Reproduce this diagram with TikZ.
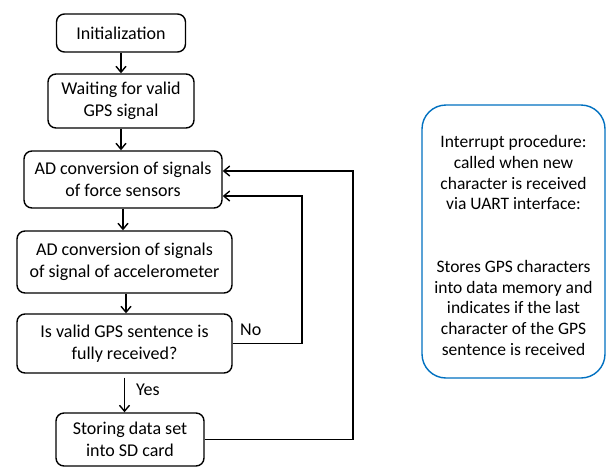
\documentclass[tikz,border=0pt]{standalone}
\usepackage{fontspec}
\setmainfont{Carlito}
\usetikzlibrary{arrows.meta,calc}
\definecolor{boxblue}{RGB}{0,112,192}
\tikzset{
  flowbox/.style={draw=black, line width=1.4pt, rounded corners=8pt, align=center,
    font=\fontsize{18}{22}\selectfont, inner sep=0pt},
  arr/.style={line width=1.4pt, -{Straight Barb[length=6pt,width=10pt,line width=1.4pt]}},
  lbl/.style={font=\fontsize{18}{22}\selectfont, inner sep=0pt}
}
\begin{document}
\begin{tikzpicture}[x=1pt,y=-1pt]
\useasboundingbox (0,0) rectangle (610,467);
\node[flowbox, minimum width=129pt, minimum height=38pt] (init) at (121,33) {Initialization};
\node[flowbox, minimum width=146pt, minimum height=54pt] (wait) at (121,101) {Waiting for valid\\GPS signal};
\node[flowbox, minimum width=198pt, minimum height=57pt] (adf) at (123,179.5) {AD conversion of signals\\of force sensors};
\node[flowbox, minimum width=215pt, minimum height=62pt] (ada) at (124.5,262) {AD conversion of signals\\of signal of accelerometer};
\node[flowbox, minimum width=215pt, minimum height=59pt] (valid) at (124.5,343.5) {Is valid GPS sentence is\\fully received?};
\node[flowbox, minimum width=148pt, minimum height=53pt] (store) at (130,439.5) {Storing data set\\into SD card};
\node[draw=boxblue, line width=1.4pt, rounded corners=24pt, minimum width=183pt, minimum height=273pt,
  align=center, inner sep=0pt, font=\fontsize{17.5}{20.7}\selectfont] (intr) at (513.5,241.5)
  {\rule{0pt}{20pt}Interrupt procedure:\\called when new\\character is received\\via UART interface:\\[42pt]
   Stores GPS characters\\into data memory and\\indicates if the last\\character of the GPS\\sentence is received};

\draw[arr] (init.south) -- (init.south |- wait.north);
\draw[arr] (wait.south) -- (wait.south |- adf.north);
\draw[arr] (adf.south) -- (adf.south |- ada.north);
\draw[arr] ([xshift=1.5pt]ada.south) -- ([xshift=1.5pt]ada.south |- valid.north);
\coordinate (yesstart) at ([yshift=-4pt]valid.south);
\draw[arr] (yesstart) -- (yesstart |- store.north);
\node[lbl, anchor=west] (yes) at (136,390) {Yes};

\coordinate (nocorner) at (302,343.5);
\draw[arr] (valid.east) -- (nocorner) |- ([yshift=-16.5pt]adf.east);
\node[lbl, anchor=west] (no) at (240,330) {No};

\coordinate (storecorner) at (353,439.5);
\draw[arr] (store.east) -- (storecorner) |- ([yshift=8.5pt]adf.east);
\end{tikzpicture}
\end{document}
